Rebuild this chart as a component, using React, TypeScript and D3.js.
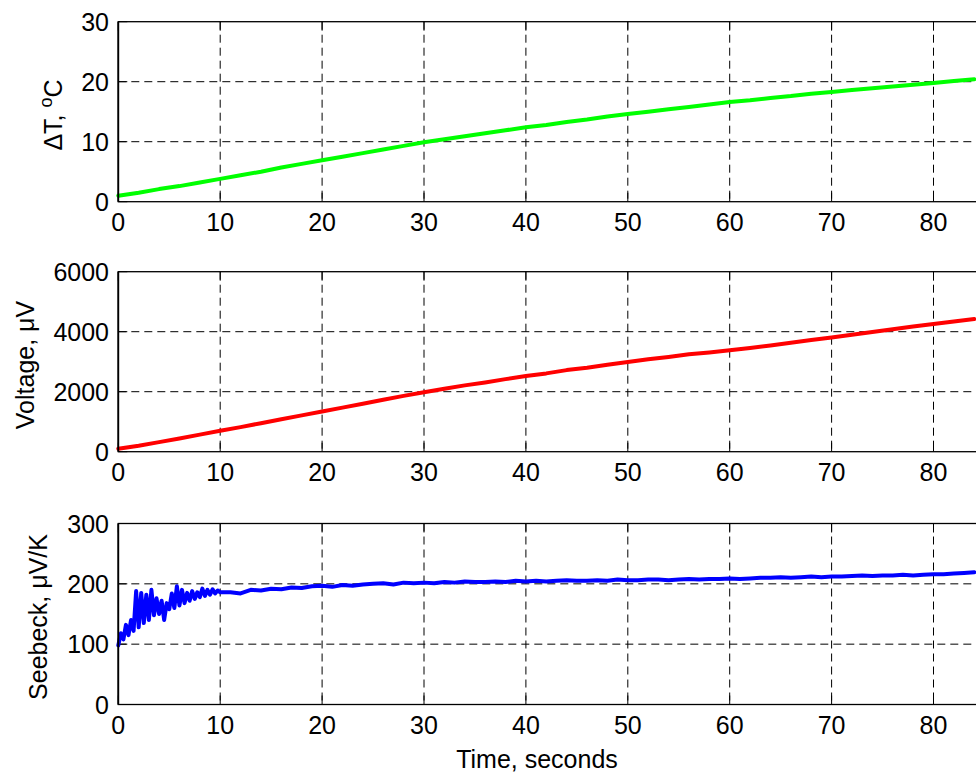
import React from "react";
import * as d3 from "d3";

// ---- data ----
const timeCoarse = [0,2,4,6,8,10,12,14,16,18,20,22,24,26,28,30,32,34,36,38,40,42,44,46,48,50,52,54,56,58,60,62,64,66,68,70,72,74,76,78,80,82,84];
const deltaT = [1.0,1.5,2.1,2.6,3.2,3.8,4.4,5.0,5.7,6.3,6.9,7.5,8.1,8.7,9.3,9.9,10.4,10.9,11.4,11.9,12.4,12.8,13.3,13.7,14.2,14.6,15.0,15.4,15.8,16.2,16.6,16.9,17.3,17.6,18.0,18.3,18.6,18.9,19.2,19.5,19.8,20.1,20.4];
const voltage = [100,200,320,440,570,700,820,950,1080,1210,1340,1470,1600,1730,1860,1980,2100,2210,2310,2420,2520,2610,2720,2800,2900,2990,3080,3160,3250,3310,3380,3460,3540,3630,3720,3810,3900,3990,4080,4170,4255,4340,4420];

const seebeckTime = [
  0,0.25,0.5,0.75,1,1.25,1.5,1.75,2,2.25,2.5,2.75,3,3.25,3.5,3.75,4,4.25,4.5,4.75,5,5.25,5.5,5.75,6,6.25,6.5,6.75,7,7.25,7.5,7.75,8,8.25,8.5,8.75,9,9.25,9.5,9.75,10,
  11,12,13,14,15,16,17,18,19,20,21,22,23,24,25,26,27,28,29,30,31,32,33,34,35,36,37,38,39,40,41,42,43,44,45,46,47,48,49,50,51,52,53,54,55,56,57,58,59,60,61,62,63,64,65,66,67,68,69,70,71,72,73,74,75,76,77,78,79,80,81,82,83,84
];
const seebeck = [
  98,118,108,132,115,140,122,188,128,185,135,182,140,190,148,176,150,172,140,168,158,184,160,196,164,190,168,185,172,188,175,186,178,192,180,190,182,191,184,189,186,
  186,184,190,189,192,191,194,193,196,197,195,198,197,199,200,201,199,202,201,202,201,203,202,204,203,203,204,203,205,204,205,204,205,206,205,205,206,205,207,206,206,207,207,206,207,208,207,208,208,209,208,209,210,210,211,210,211,212,211,212,212,213,214,213,214,214,215,214,215,216,216,217,218,219
];

const xTicks = [0,10,20,30,40,50,60,70,80];
const tTicks = [0,10,20,30];
const vTicks = [0,2000,4000,6000];
const sTicks = [0,100,200,300];

const W = 976, H = 775;
const left = 118.3;
const pxPerSec = 10.19;
const xMax = 90;
const x = d3.scaleLinear().domain([0, xMax]).range([left, left + xMax * pxPerSec]);

const FONT = "'Liberation Sans', Arial, Helvetica, sans-serif";
const FS = 25;
const TICK = 9;

type PanelProps = {
  top: number; bottom: number; domain: [number, number]; yTicks: number[];
  xs: number[]; ys: number[]; color: string;
};

function Panel({ top, bottom, domain, yTicks, xs, ys, color }: PanelProps) {
  const y = d3.scaleLinear().domain(domain).range([bottom, top]);
  const right = x.range()[1];
  const line = d3.line<number>().x((_, i) => x(xs[i])).y((d) => y(d));
  return (
    <g>
      {/* grid */}
      {xTicks.filter((t) => t > 0).map((t) => (
        <line key={"gx" + t} x1={x(t)} x2={x(t)} y1={top} y2={bottom} stroke="#000" strokeWidth={1} strokeDasharray="8,5" />
      ))}
      {yTicks.filter((t) => t > domain[0] && t < domain[1]).map((t) => (
        <line key={"gy" + t} x1={left} x2={right} y1={y(t)} y2={y(t)} stroke="#000" strokeWidth={1} strokeDasharray="8,5" />
      ))}
      {/* ticks inward */}
      {xTicks.map((t) => (
        <g key={"tx" + t}>
          <line x1={x(t)} x2={x(t)} y1={bottom} y2={bottom - TICK} stroke="#000" strokeWidth={1} />
          <line x1={x(t)} x2={x(t)} y1={top} y2={top + TICK} stroke="#000" strokeWidth={1} />
          <text x={x(t)} y={bottom + 29} textAnchor="middle" fontFamily={FONT} fontSize={FS} fill="#000">{t}</text>
        </g>
      ))}
      {yTicks.map((t) => (
        <g key={"ty" + t}>
          <line x1={left} x2={left + TICK} y1={y(t)} y2={y(t)} stroke="#000" strokeWidth={1} />
          <text x={109} y={y(t)} dy="0.36em" textAnchor="end" fontFamily={FONT} fontSize={FS} fill="#000">{t}</text>
        </g>
      ))}
      {/* data */}
      <path d={line(ys) || ""} fill="none" stroke={color} strokeWidth={4} strokeLinejoin="round" strokeLinecap="round" />
      {/* box */}
      <rect x={left} y={top} width={right - left} height={bottom - top} fill="none" stroke="#000" strokeWidth={1.3} />
      <line x1={left} x2={left} y1={top} y2={bottom} stroke="#000" strokeWidth={1.8} />
    </g>
  );
}

export default function App() {
  return (
    <svg width={W} height={H} style={{ position: "absolute", left: 0, top: 0, background: "#fff" }}>
      <rect x={0} y={0} width={W} height={H} fill="#fff" />
      <Panel top={21.7} bottom={201.7} domain={[0, 30]} yTicks={tTicks} xs={timeCoarse} ys={deltaT} color="#00ff00" />
      <Panel top={271.7} bottom={451.7} domain={[0, 6000]} yTicks={vTicks} xs={timeCoarse} ys={voltage} color="#ff0000" />
      <Panel top={523.5} bottom={704.5} domain={[0, 300]} yTicks={sTicks} xs={seebeckTime} ys={seebeck} color="#0000ff" />

      <text transform="translate(62,115) rotate(-90)" textAnchor="middle" fontFamily={FONT} fontSize={FS} fill="#000">
        ΔT, <tspan fontSize={18} dy="-10">o</tspan><tspan dy="10">C</tspan>
      </text>
      <text transform="translate(33.5,365) rotate(-90)" textAnchor="middle" fontFamily={FONT} fontSize={FS} fill="#000">Voltage, μV</text>
      <text transform="translate(47,617) rotate(-90)" textAnchor="middle" fontFamily={FONT} fontSize={FS} fill="#000">Seebeck, μV/K</text>
      <text x={537} y={768} textAnchor="middle" fontFamily={FONT} fontSize={FS} fill="#000">Time, seconds</text>
    </svg>
  );
}
